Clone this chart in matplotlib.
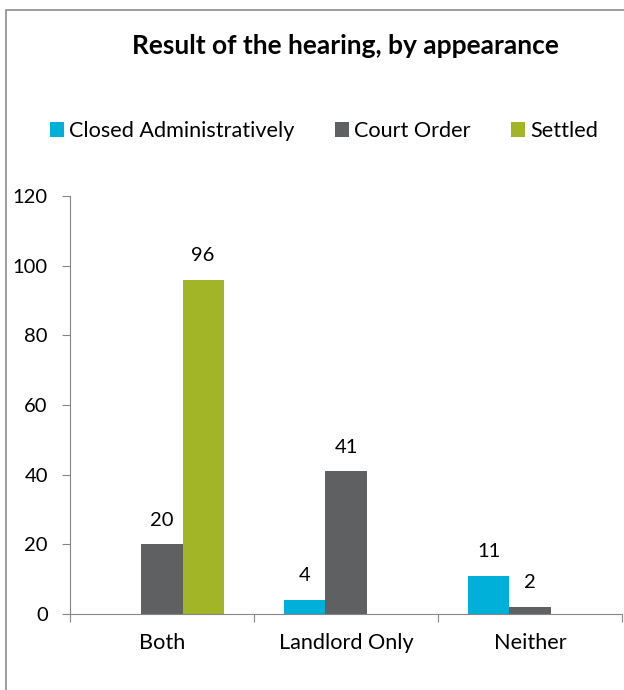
import matplotlib
matplotlib.use("Agg")
import matplotlib.pyplot as plt
import numpy as np
from matplotlib.patches import Rectangle

categories = ["Both", "Landlord Only", "Neither"]
series_names = ["Closed Administratively", "Court Order", "Settled"]
closed_admin = [0, 4, 11]
court_order = [20, 41, 2]
settled = [96, 0, 0]
colors = ["#00B0D8", "#5F6062", "#A2B527"]
yticks = [0, 20, 40, 60, 80, 100, 120]

plt.rcParams['font.family'] = ['Lato', 'DejaVu Sans']
FS_NUM = 14.5
FS_TXT = 15.6

fig = plt.figure(figsize=(6.24, 6.9), dpi=100)
fig.patches.append(Rectangle((6/624, -0.1), 1.2, 1 - 10/690 + 0.1, transform=fig.transFigure,
                             fill=False, edgecolor="#8c8c8c", linewidth=1.2))

ax = fig.add_axes([70/624, 1 - 614/690, 552/624, (614 - 196)/690])
x = np.arange(len(categories))
w = 0.223
all_series = [closed_admin, court_order, settled]
for i, (name, vals, c) in enumerate(zip(series_names, all_series, colors)):
    pos = x + (i - 1) * w
    ax.bar(pos, vals, width=w, color=c, label=name)
    for p, v in zip(pos, vals):
        if v:
            ax.text(p, v + 4.5, str(v), ha="center", va="bottom", fontsize=FS_NUM, color="black")

ax.set_xlim(-0.5, 2.5)
ax.set_ylim(0, 120)
ax.set_yticks(yticks)
ax.set_yticklabels([str(t) for t in yticks], fontsize=FS_NUM)
ax.set_xticks([-0.5, 0.5, 1.5, 2.5])
ax.set_xticklabels([])
ax.set_xticks(x, minor=True)
ax.set_xticklabels(categories, minor=True, fontsize=FS_TXT)
ax.tick_params(axis="x", which="minor", length=0, pad=14)
ax.tick_params(axis="x", which="major", length=6, color="#868686", direction="out")
ax.tick_params(axis="y", length=6, color="#868686", pad=10)
for s in ["top", "right"]:
    ax.spines[s].set_visible(False)
for s in ["left", "bottom"]:
    ax.spines[s].set_color("#868686")

fig.text(345/624, 1 - 46/690, "Result of the hearing, by appearance", ha="center", va="center",
         fontsize=19, fontweight="bold")
handles, labels = ax.get_legend_handles_labels()
fig.legend(handles, labels, loc="center", bbox_to_anchor=(324/624, 1 - 131/690), ncol=3,
           frameon=False, fontsize=FS_TXT, handlelength=0.64, handleheight=0.64,
           handletextpad=0.23, columnspacing=1.88)

fig.savefig("out.png", dpi=100)
